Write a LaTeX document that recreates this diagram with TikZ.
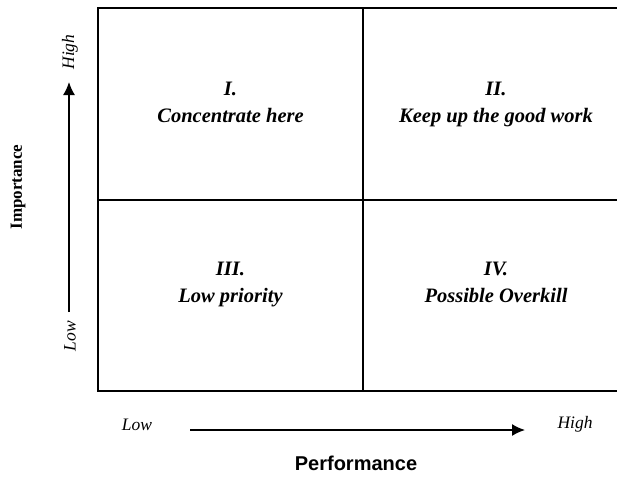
\documentclass[tikz,border=0pt]{standalone}
\usepackage{fontspec}
\setmainfont{Liberation Serif}
\newfontfamily\arialfont{Liberation Sans}
\usetikzlibrary{arrows.meta}
\tikzset{
  quad/.style={align=center,font=\fontsize{20.5}{27}\selectfont\bfseries\itshape,inner sep=0pt},
  axlab/.style={font=\fontsize{17.5}{20}\selectfont\itshape,inner sep=0pt},
  axtitle/.style={font=\fontsize{17}{20}\selectfont\bfseries,inner sep=0pt},
  grid/.style={line width=2pt},
  axarrow/.style={line width=1.5pt,-{Latex[length=13pt,width=12pt]}}
}
\begin{document}
\begin{tikzpicture}[x=1pt,y=-1pt]
\useasboundingbox (0,0) rectangle (617,479);
\begin{scope}
\clip (0,0) rectangle (617,479);
\draw[grid] (98,8) rectangle (629,391);
\draw[grid] (363,8) -- (363,391);
\draw[grid] (98,200) -- (629,200);
\end{scope}
\node[quad] (q1) at (230.5,103.5) {\strut I.\\\strut Concentrate here};
\node[quad] (q2) at (496,103.5) {\strut II.\\\strut Keep up the good work};
\node[quad] (q3) at (230.5,283.5) {\strut III.\\\strut Low priority};
\node[quad] (q4) at (496,283.5) {\strut IV.\\\strut Possible Overkill};
\coordinate (vlow) at (69,312);
\coordinate (vhigh) at (69,82);
\draw[axarrow] (vlow) -- (vhigh);
\node[axlab,rotate=90] (vl) at (70,336) {Low};
\node[axlab,rotate=90] (vh) at (70,52) {High};
\node[axtitle,rotate=90] (imp) at (18,187) {Importance};
\coordinate (hlow) at (190,430);
\coordinate (hhigh) at (525,430);
\draw[axarrow] (hlow) -- (hhigh);
\node[axlab] (hl) at (137,425) {Low};
\node[axlab] (hh) at (575,424) {High};
\node[font=\fontsize{20}{24}\selectfont\arialfont\bfseries,inner sep=0pt] (perf) at (356,463) {Performance};
\end{tikzpicture}
\end{document}
